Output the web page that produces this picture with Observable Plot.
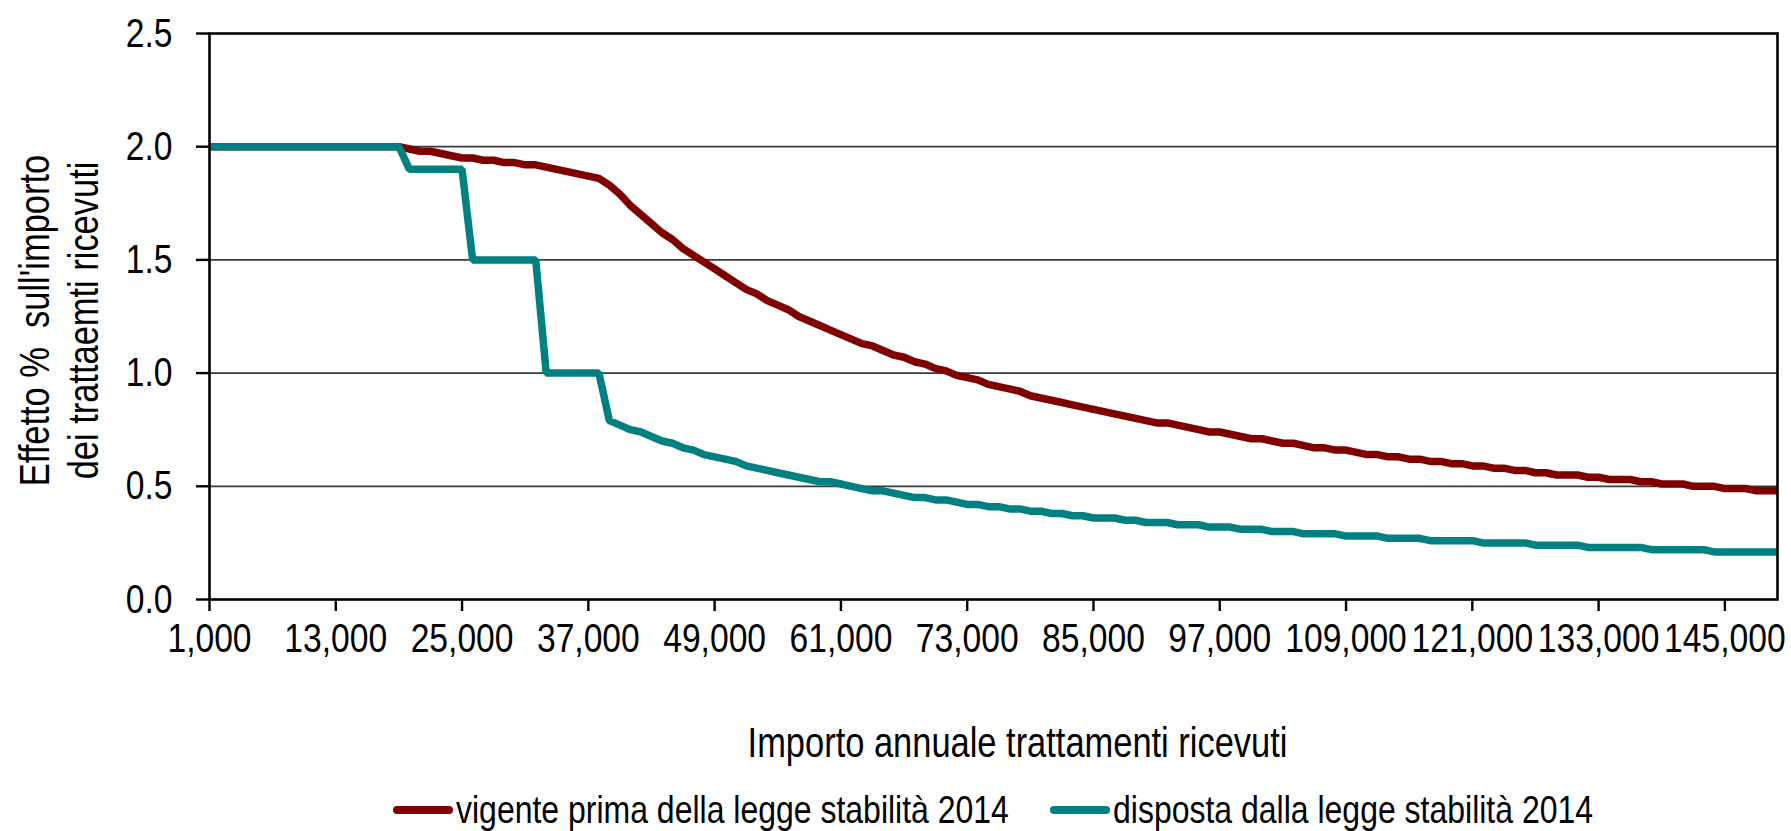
<!DOCTYPE html>
<html>
<head>
<meta charset="utf-8">
<script src="https://cdn.jsdelivr.net/npm/d3@7"></script>
<script src="https://cdn.jsdelivr.net/npm/@observablehq/plot@0.6"></script>
<style>
  html, body { margin: 0; padding: 0; background: #fff; }
  body { width: 1791px; height: 831px; overflow: hidden; font-family: "Liberation Sans", Arial, sans-serif; }
  #chart svg { display: block; }
  #legend { display: flex; justify-content: center; align-items: center; box-sizing: border-box; padding-left: 209px; padding-right: 14px; width: 1791px; height: 44px; font-size: 39px; color: #000; }
  .item { display: flex; align-items: center; margin: 0 21px; white-space: nowrap; }
  .sw { width: 60px; height: 8px; border-radius: 4px; margin-right: 3px; flex: none; }
  .lbl { display: inline-block; transform-origin: left center; }
</style>
</head>
<body>
<div id="chart"></div>
<div id="legend"></div>
<script>
// Categories: importo annuale (euro)
const importo = [
  1000,2000,3000,4000,5000,6000,7000,8000,9000,10000,
  11000,12000,13000,14000,15000,16000,17000,18000,19000,20000,
  21000,22000,23000,24000,25000,26000,27000,28000,29000,30000,
  31000,32000,33000,34000,35000,36000,37000,38000,39000,40000,
  41000,42000,43000,44000,45000,46000,47000,48000,49000,50000,
  51000,52000,53000,54000,55000,56000,57000,58000,59000,60000,
  61000,62000,63000,64000,65000,66000,67000,68000,69000,70000,
  71000,72000,73000,74000,75000,76000,77000,78000,79000,80000,
  81000,82000,83000,84000,85000,86000,87000,88000,89000,90000,
  91000,92000,93000,94000,95000,96000,97000,98000,99000,100000,
  101000,102000,103000,104000,105000,106000,107000,108000,109000,110000,
  111000,112000,113000,114000,115000,116000,117000,118000,119000,120000,
  121000,122000,123000,124000,125000,126000,127000,128000,129000,130000,
  131000,132000,133000,134000,135000,136000,137000,138000,139000,140000,
  141000,142000,143000,144000,145000,146000,147000,148000,149000,150000
];

// Series 1: vigente prima della legge stabilità 2014
const vigente = [
  2.00,2.00,2.00,2.00,2.00,2.00,2.00,2.00,2.00,2.00,
  2.00,2.00,2.00,2.00,2.00,2.00,2.00,2.00,2.00,1.99,
  1.98,1.98,1.97,1.96,1.95,1.95,1.94,1.94,1.93,1.93,
  1.92,1.92,1.91,1.90,1.89,1.88,1.87,1.86,1.83,1.79,
  1.74,1.70,1.66,1.62,1.59,1.55,1.52,1.49,1.46,1.43,
  1.40,1.37,1.35,1.32,1.30,1.28,1.25,1.23,1.21,1.19,
  1.17,1.15,1.13,1.12,1.10,1.08,1.07,1.05,1.04,1.02,
  1.01,0.99,0.98,0.97,0.95,0.94,0.93,0.92,0.90,0.89,
  0.88,0.87,0.86,0.85,0.84,0.83,0.82,0.81,0.80,0.79,
  0.78,0.78,0.77,0.76,0.75,0.74,0.74,0.73,0.72,0.71,
  0.71,0.70,0.69,0.69,0.68,0.67,0.67,0.66,0.66,0.65,
  0.64,0.64,0.63,0.63,0.62,0.62,0.61,0.61,0.60,0.60,
  0.59,0.59,0.58,0.58,0.57,0.57,0.56,0.56,0.55,0.55,
  0.55,0.54,0.54,0.53,0.53,0.53,0.52,0.52,0.51,0.51,
  0.51,0.50,0.50,0.50,0.49,0.49,0.49,0.48,0.48,0.48
];

// Series 2: disposta dalla legge stabilità 2014
const disposta = [
  2.00,2.00,2.00,2.00,2.00,2.00,2.00,2.00,2.00,2.00,
  2.00,2.00,2.00,2.00,2.00,2.00,2.00,2.00,2.00,1.90,
  1.90,1.90,1.90,1.90,1.90,1.50,1.50,1.50,1.50,1.50,
  1.50,1.50,1.00,1.00,1.00,1.00,1.00,1.00,0.79,0.77,
  0.75,0.74,0.72,0.70,0.69,0.67,0.66,0.64,0.63,0.62,
  0.61,0.59,0.58,0.57,0.56,0.55,0.54,0.53,0.52,0.52,
  0.51,0.50,0.49,0.48,0.48,0.47,0.46,0.45,0.45,0.44,
  0.44,0.43,0.42,0.42,0.41,0.41,0.40,0.40,0.39,0.39,
  0.38,0.38,0.37,0.37,0.36,0.36,0.36,0.35,0.35,0.34,
  0.34,0.34,0.33,0.33,0.33,0.32,0.32,0.32,0.31,0.31,
  0.31,0.30,0.30,0.30,0.29,0.29,0.29,0.29,0.28,0.28,
  0.28,0.28,0.27,0.27,0.27,0.27,0.26,0.26,0.26,0.26,
  0.26,0.25,0.25,0.25,0.25,0.25,0.24,0.24,0.24,0.24,
  0.24,0.23,0.23,0.23,0.23,0.23,0.23,0.22,0.22,0.22,
  0.22,0.22,0.22,0.21,0.21,0.21,0.21,0.21,0.21,0.21
];

const seriesNames = ["vigente prima della legge stabilità 2014", "disposta dalla legge stabilità 2014"];
const seriesColors = ["#800000", "#008080"];

const xTickValues = [1000,13000,25000,37000,49000,61000,73000,85000,97000,109000,121000,133000,145000];
const xTickLabels = ["1,000","13,000","25,000","37,000","49,000","61,000","73,000","85,000","97,000","109,000","121,000","133,000","145,000"];
const yTickValues = [0, 0.5, 1.0, 1.5, 2.0, 2.5];
const yTickLabels = ["0.0","0.5","1.0","1.5","2.0","2.5"];
const gridValues = [0.5, 1.0, 1.5, 2.0];

const yTitle = ["Effetto %  sull'importo", "dei trattaemti ricevuti"];
const xTitle = "Importo annuale trattamenti ricevuti";

const FONT = '"Liberation Sans", Arial, sans-serif';
const NARROW = 0.82; // Arial Narrow-like width

const rows = importo.map((x, i) => ({x, vigente: vigente[i], disposta: disposta[i]}));

const chart = Plot.plot({
  width: 1791,
  height: 788,
  marginLeft: 209,
  marginRight: 14,
  marginTop: 33,
  marginBottom: 189,
  style: {fontFamily: FONT, fontSize: "41px", color: "#000", background: "#fff", overflow: "visible"},
  x: {type: "linear", domain: [1000, 150000]},
  y: {type: "linear", domain: [0, 2.5]},
  marks: [
    Plot.ruleY(gridValues, {stroke: "#3a3a3a", strokeWidth: 1.8}),
    Plot.line(rows, {x: "x", y: "vigente", stroke: seriesColors[0], strokeWidth: 7.5, strokeLinejoin: "miter", strokeLinecap: "butt"}),
    Plot.line(rows, {x: "x", y: "disposta", stroke: seriesColors[1], strokeWidth: 7.5, strokeLinejoin: "miter", strokeLinecap: "butt"}),
    Plot.frame({stroke: "#000", strokeWidth: 2.6}),
    Plot.axisY({ticks: yTickValues, tickFormat: (d) => yTickLabels[yTickValues.indexOf(d)], tickSize: 13, tickPadding: 24, strokeWidth: 2.4, label: null}),
    Plot.axisX({ticks: xTickValues, tickFormat: (d) => xTickLabels[xTickValues.indexOf(d)], tickSize: 12, tickPadding: 11, strokeWidth: 2.4, label: null}),
    Plot.text([yTitle[0]], {frameAnchor: "left", rotate: -90, dx: -161, dy: 4, lineAnchor: "bottom", textAnchor: "middle", fontSize: 42, fill: "#000"}),
    Plot.text([yTitle[1]], {frameAnchor: "left", rotate: -90, dx: -112, dy: 4, lineAnchor: "bottom", textAnchor: "middle", fontSize: 42, fill: "#000"}),
    Plot.text([xTitle], {frameAnchor: "bottom", dx: 24, dy: 157, lineAnchor: "bottom", textAnchor: "middle", fontSize: 42, fill: "#000"})
  ]
});
document.getElementById("chart").appendChild(chart);

// Condense all SVG texts to an Arial Narrow-like width
d3.select(chart).selectAll("text").each(function() {
  this.style.whiteSpace = "pre";
  const len = this.getComputedTextLength();
  if (len > 0) {
    this.setAttribute("textLength", (len * NARROW).toFixed(2));
    this.setAttribute("lengthAdjust", "spacingAndGlyphs");
  }
});

const legend = d3.select("#legend");
seriesNames.forEach((name, i) => {
  const item = legend.append("div").attr("class", "item");
  item.append("div").attr("class", "sw").style("background", seriesColors[i]);
  const lbl = item.append("span").attr("class", "lbl").text(name).node();
  const w = lbl.getBoundingClientRect().width;
  lbl.style.transform = `scaleX(${NARROW})`;
  lbl.style.marginRight = `${-(w * (1 - NARROW)).toFixed(2)}px`;
});
</script>
</body>
</html>
